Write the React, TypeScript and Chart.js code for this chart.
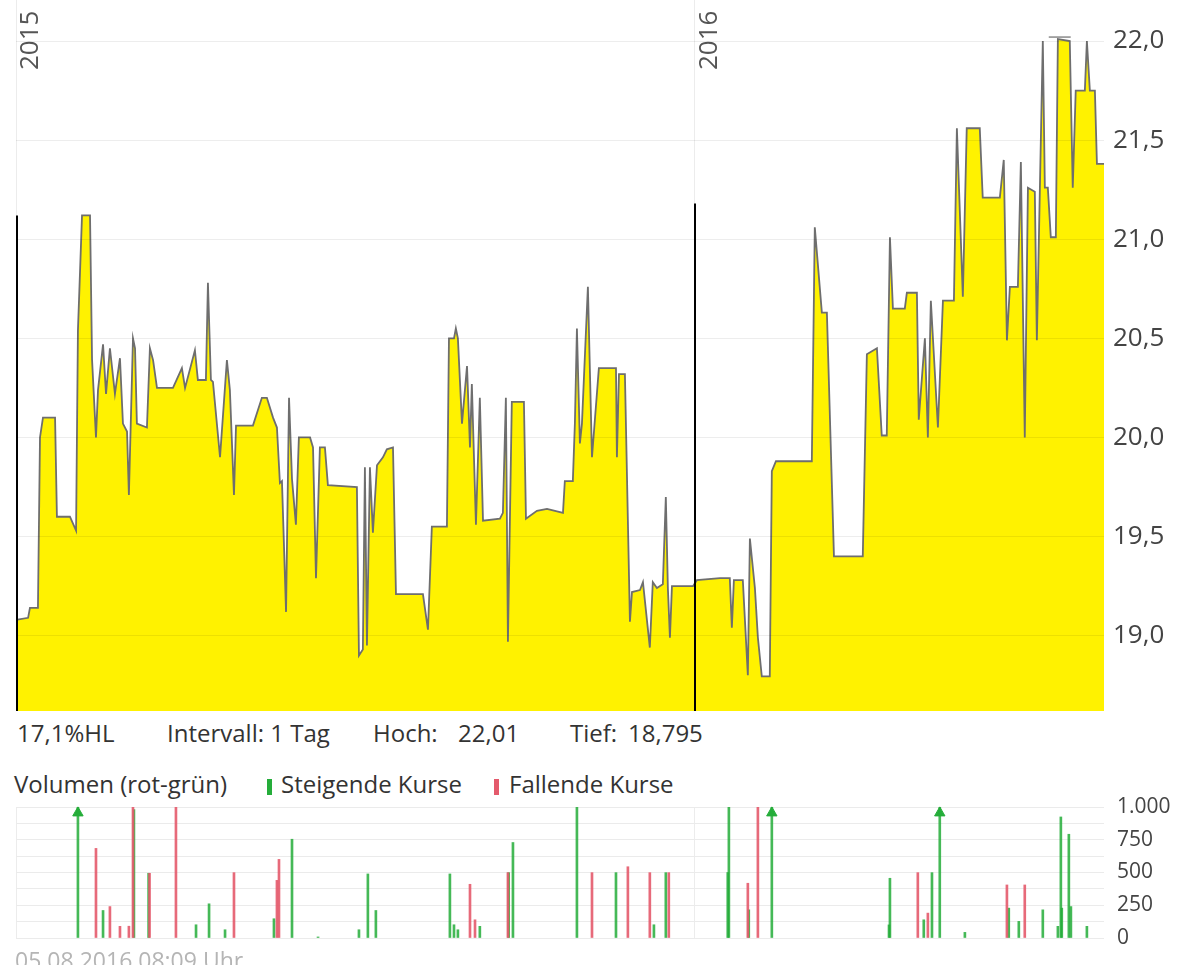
import React, { useEffect, useRef } from 'react';
import { Chart, registerables } from 'chart.js';

Chart.register(...registerables);
Chart.defaults.font.family = '"Open Sans", sans-serif';

// ---- price series (days since start of chart, price in EUR) ----
const priceDays = [0,6.5,7.5,11.8,12.9,14.5,21.0,22.0,29.0,32.3,33.3,35.5,39.8,40.9,43.0,44.1,46.8,48.4,50.5,53.2,55.9,57.5,59.7,60.7,62.9,64.0,65.0,70.4,72.0,73.7,75.8,84.4,89.2,90.9,96.2,97.8,102.1,103.2,104.8,105.9,109.7,113.4,115.0,117.2,118.3,127.4,132.2,134.9,138.2,140.3,141.9,143.0,145.2,146.8,148.4,150.5,152.1,158.1,159.7,161.3,163.4,166.1,167.7,183.3,184.4,186.5,187.6,188.7,190.3,191.9,194.1,197.3,199.4,202.7,204.3,218.8,221.5,223.6,231.7,232.8,235.5,236.5,237.6,239.8,242.5,244.1,245.1,247.3,249.4,251.1,260.2,261.8,263.4,264.5,266.6,273.1,274.2,280.1,285.5,294.1,295.1,299.4,300.5,301.6,303.2,304.3,307.5,309.7,313.4,322.6,323.1,324.2,327.4,330.1,331.2,335.5,337.1,340.8,342.4,344.6,347.8,349.4,350.5,351.6,352.7,364.0,366.1,378.5,383.8,384.9,386.0,390.8,393.5,394.6,397.3,398.9,401.0,405.3,406.4,408.6,427.9,429.5,433.3,436.0,439.8,455.3,457.5,462.9,465.5,468.2,469.9,471.5,477.9,479.0,484.4,485.4,488.7,490.3,491.9,495.7,498.4,504.3,505.9,509.1,511.2,518.2,519.8,529.0,531.1,532.8,534.4,538.7,540.3,542.4,544.1,547.8,548.9,552.1,553.2,554.8,556.4,559.1,560.2,566.6,568.2,569.8,574.7,575.8,577.4,580.1,581.2,585.0];
const priceValues = [19.08,19.09,19.14,19.14,20.00,20.10,20.10,19.60,19.60,19.53,20.54,21.12,21.12,20.39,20.00,20.24,20.47,20.22,20.45,20.22,20.40,20.07,20.03,19.71,20.50,20.45,20.07,20.05,20.45,20.39,20.25,20.25,20.35,20.25,20.44,20.29,20.29,20.78,20.29,20.28,19.90,20.39,20.24,19.71,20.06,20.06,20.20,20.20,20.10,20.05,19.77,19.78,19.12,20.20,19.79,19.56,20.00,20.00,19.95,19.29,19.95,19.95,19.76,19.75,18.90,18.93,19.85,18.95,19.85,19.52,19.86,19.90,19.94,19.95,19.21,19.21,19.03,19.55,19.55,20.50,20.50,20.55,20.50,20.07,20.36,19.95,20.27,19.56,20.20,19.58,19.59,19.62,20.20,18.97,20.18,20.18,19.59,19.63,19.64,19.62,19.78,19.78,20.07,20.55,19.97,20.07,20.76,19.90,20.35,20.35,19.90,20.32,20.32,19.07,19.22,19.23,19.27,18.94,19.27,19.24,19.26,19.70,19.24,18.99,19.25,19.25,19.28,19.29,19.29,19.04,19.28,19.28,18.80,19.49,19.24,18.99,18.795,18.795,19.83,19.88,19.88,21.06,20.63,20.63,19.40,19.40,20.42,20.45,20.01,20.01,21.01,20.65,20.65,20.73,20.73,20.09,20.50,20.00,20.69,20.05,20.69,20.69,21.56,20.71,21.56,21.56,21.21,21.21,21.40,20.49,20.76,20.76,21.39,20.00,21.26,21.24,20.49,22.00,21.26,21.26,21.01,21.01,22.01,22.00,21.26,21.75,21.75,22.00,21.75,21.75,21.38,21.38];

const priceTicks = [19.0, 19.5, 20.0, 20.5, 21.0, 21.5, 22.0];
const priceMin = 18.62;
const priceMax = 22.207;
const dayMax = 585;

const yearLabels = ['2015', '2016'];
const yearStartDays = [0, 365];
const cursorDays = [0, 365];
const cursorTops = [21.12, 21.18];
const highMarkerDays = [555.3, 567.1];
const highMarkerValue = 22.02;

// ---- volume ----
const volDays = [33.3,43.0,46.8,50.5,55.9,60.7,62.9,63.4,71.3,71.8,86.0,96.8,103.8,112.4,117.2,138.7,140.3,141.4,148.4,162.4,184.4,189.2,193.5,233.3,235.5,237.6,244.1,246.8,249.4,264.5,264.9,267.2,301.6,309.7,322.6,329.0,340.8,343.0,349.4,351.0,382.7,383.3,393.5,394.0,398.9,406.4,469.4,469.9,484.9,488.1,490.3,492.5,496.7,510.2,532.8,533.8,539.2,542.4,552.1,560.2,561.8,562.3,566.1,567.2,575.8];
const volValues = [1200,684,210,240,89,90,1000,980,494,494,1000,101,261,63,499,147,440,600,754,8,63,489,210,489,101,63,410,139,89,499,499,729,1000,499,499,544,499,101,499,499,500,1000,418,215,1000,1200,100,456,499,139,190,499,1200,43,405,228,127,405,215,89,924,228,792,240,89];
const volRising = [1,0,1,0,0,0,0,1,1,0,0,1,1,1,0,1,0,0,1,1,1,1,1,1,1,1,0,0,1,0,1,1,1,0,1,0,0,1,1,0,1,1,0,1,0,1,1,1,0,1,0,1,1,1,0,1,1,0,1,1,1,1,1,1,1];
const volOverflowDays = [33.3, 406.4, 496.7];
const volGrid = [0, 125, 250, 375, 500, 625, 750, 875, 1000];
const volLabelStep = 250;
const volMax = 1000;

const GREEN = '#25ad3a';
const RED = '#e45a6c';

const fmtPrice = (v: number) => v.toFixed(1).replace('.', ',');
const fmtVol = (v: number) => String(v).replace(/\B(?=(\d{3})+(?!\d))/g, '.');

const mainOverlay = {
  id: 'mainOverlay',
  afterDatasetsDraw(chart: any) {
    const { ctx, chartArea, scales } = chart;
    const x = scales.x, y = scales.y;
    ctx.save();
    ctx.strokeStyle = '#000';
    ctx.lineWidth = 2;
    cursorDays.forEach((d, i) => {
      const px = Math.round(x.getPixelForValue(d)) + (i === 0 ? 1 : 0);
      ctx.beginPath();
      ctx.moveTo(px, y.getPixelForValue(cursorTops[i]));
      ctx.lineTo(px, chartArea.bottom);
      ctx.stroke();
    });
    ctx.fillStyle = '#555';
    ctx.font = '26px "Open Sans", sans-serif';
    ctx.textAlign = 'left';
    ctx.textBaseline = 'alphabetic';
    yearStartDays.forEach((d, i) => {
      const px = x.getPixelForValue(d);
      ctx.save();
      ctx.translate(px + 22, chartArea.top + 70);
      ctx.rotate(-Math.PI / 2);
      ctx.fillText(yearLabels[i], 0, 0);
      ctx.restore();
    });
    ctx.restore();
  },
};

const textStyle = (left: number, top: number, size = 24, color = '#333'): React.CSSProperties => ({
  position: 'absolute',
  left,
  top,
  fontSize: size,
  lineHeight: `${size}px`,
  color,
  whiteSpace: 'nowrap',
});

export default function App() {
  const mainRef = useRef<HTMLCanvasElement>(null);
  const volRef = useRef<HTMLCanvasElement>(null);

  useEffect(() => {
    const priceData = priceDays.map((d, i) => ({ x: d, y: priceValues[i] }));
    const main = new Chart(mainRef.current!, {
      type: 'line',
      data: {
        datasets: [
          {
            data: priceData,
            borderColor: '#6e6e6e',
            borderWidth: 1.8,
            backgroundColor: '#fff200',
            fill: 'start',
            pointRadius: 0,
            tension: 0,
          },
          {
            data: highMarkerDays.map((d) => ({ x: d, y: highMarkerValue })),
            borderColor: '#8a8a8a',
            borderWidth: 1.5,
            fill: false,
            pointRadius: 0,
          },
        ],
      },
      options: {
        animation: false,
        responsive: true,
        maintainAspectRatio: false,
        layout: { padding: { left: 16, right: 0, top: 0, bottom: 5 } },
        plugins: { legend: { display: false }, tooltip: { enabled: false } },
        scales: {
          x: {
            type: 'linear',
            min: 0,
            max: dayMax,
            ticks: { display: false },
            grid: { drawTicks: false, color: '#ececec' },
            border: { display: false },
            afterBuildTicks: (s: any) => {
              s.ticks = yearStartDays.map((v) => ({ value: v }));
            },
          },
          y: {
            position: 'right',
            min: priceMin,
            max: priceMax,
            afterBuildTicks: (s: any) => {
              s.ticks = priceTicks.map((v) => ({ value: v }));
            },
            afterFit: (s: any) => {
              s.width = 76;
              s.paddingTop = 0;
              s.paddingBottom = 0;
            },
            ticks: {
              callback: (v: any) => fmtPrice(Number(v)),
              font: { size: 26 },
              color: '#444',
              padding: 9,
            },
            grid: { drawTicks: false, color: 'rgba(0,0,0,0.07)', z: 1 },
            border: { display: false },
          },
        },
      },
      plugins: [mainOverlay],
    } as any);

    const upData: any[] = [];
    const downData: any[] = [];
    volDays.forEach((d, i) => {
      (volRising[i] ? upData : downData).push({ x: d, y: volValues[i] });
    });

    const vol = new Chart(volRef.current!, {
      type: 'bar',
      data: {
        datasets: [
          { data: downData, backgroundColor: 'rgba(228,90,108,0.9)', barThickness: 2, grouped: false } as any,
          { data: upData, backgroundColor: 'rgba(37,173,58,0.85)', barThickness: 2, grouped: false } as any,
          {
            type: 'scatter',
            data: volOverflowDays.map((d) => ({ x: d, y: volMax * 0.955 })),
            pointStyle: 'triangle',
            pointRadius: 6,
            backgroundColor: GREEN,
            borderColor: GREEN,
            clip: false,
          } as any,
        ],
      },
      options: {
        animation: false,
        responsive: true,
        maintainAspectRatio: false,
        layout: { padding: { left: 16, right: 0, top: 12, bottom: 22 } },
        plugins: { legend: { display: false }, tooltip: { enabled: false } },
        scales: {
          x: {
            type: 'linear',
            min: 0,
            max: dayMax,
            offset: false,
            ticks: { display: false },
            grid: { drawTicks: false, color: '#ececec', offset: false },
            border: { display: false },
            afterBuildTicks: (s: any) => {
              s.ticks = yearStartDays.map((v) => ({ value: v }));
            },
          },
          y: {
            position: 'right',
            min: 0,
            max: volMax,
            afterBuildTicks: (s: any) => {
              s.ticks = volGrid.map((v) => ({ value: v }));
            },
            afterFit: (s: any) => {
              s.width = 76;
              s.paddingTop = 0;
              s.paddingBottom = 0;
            },
            ticks: {
              autoSkip: false,
              callback: (v: any) => (Number(v) % volLabelStep === 0 ? fmtVol(Number(v)) : ''),
              font: { size: 21 },
              color: '#444',
              padding: 13,
            },
            grid: { drawTicks: false, color: '#ebebeb' },
            border: { display: false },
          },
        },
      },
    } as any);

    return () => {
      main.destroy();
      vol.destroy();
    };
  }, []);

  return (
    <div
      style={{
        position: 'absolute',
        left: 0,
        top: 0,
        width: 1180,
        height: 965,
        overflow: 'hidden',
        background: '#fff',
        fontFamily: '"Open Sans", sans-serif',
      }}
    >
      <div style={{ position: 'absolute', left: 0, top: 0, width: 1180, height: 716 }}>
        <canvas ref={mainRef} />
      </div>

      <div style={textStyle(17, 721)}>17,1%HL</div>
      <div style={textStyle(167, 721)}>Intervall: 1 Tag</div>
      <div style={textStyle(373, 721)}>Hoch:</div>
      <div style={textStyle(458, 721)}>22,01</div>
      <div style={textStyle(570, 721)}>Tief:</div>
      <div style={textStyle(628, 721)}>18,795</div>

      <div style={textStyle(14, 772)}>Volumen (rot-grün)</div>
      <div style={{ position: 'absolute', left: 267, top: 779, width: 5, height: 16, background: GREEN }} />
      <div style={textStyle(281, 772)}>Steigende Kurse</div>
      <div style={{ position: 'absolute', left: 494, top: 779, width: 5, height: 16, background: RED }} />
      <div style={textStyle(509, 772)}>Fallende Kurse</div>

      <div style={{ position: 'absolute', left: 0, top: 795, width: 1180, height: 165 }}>
        <canvas ref={volRef} />
      </div>

      <div style={textStyle(15, 949, 23, '#b5b5b5')}>05.08.2016 08:09 Uhr</div>
    </div>
  );
}
